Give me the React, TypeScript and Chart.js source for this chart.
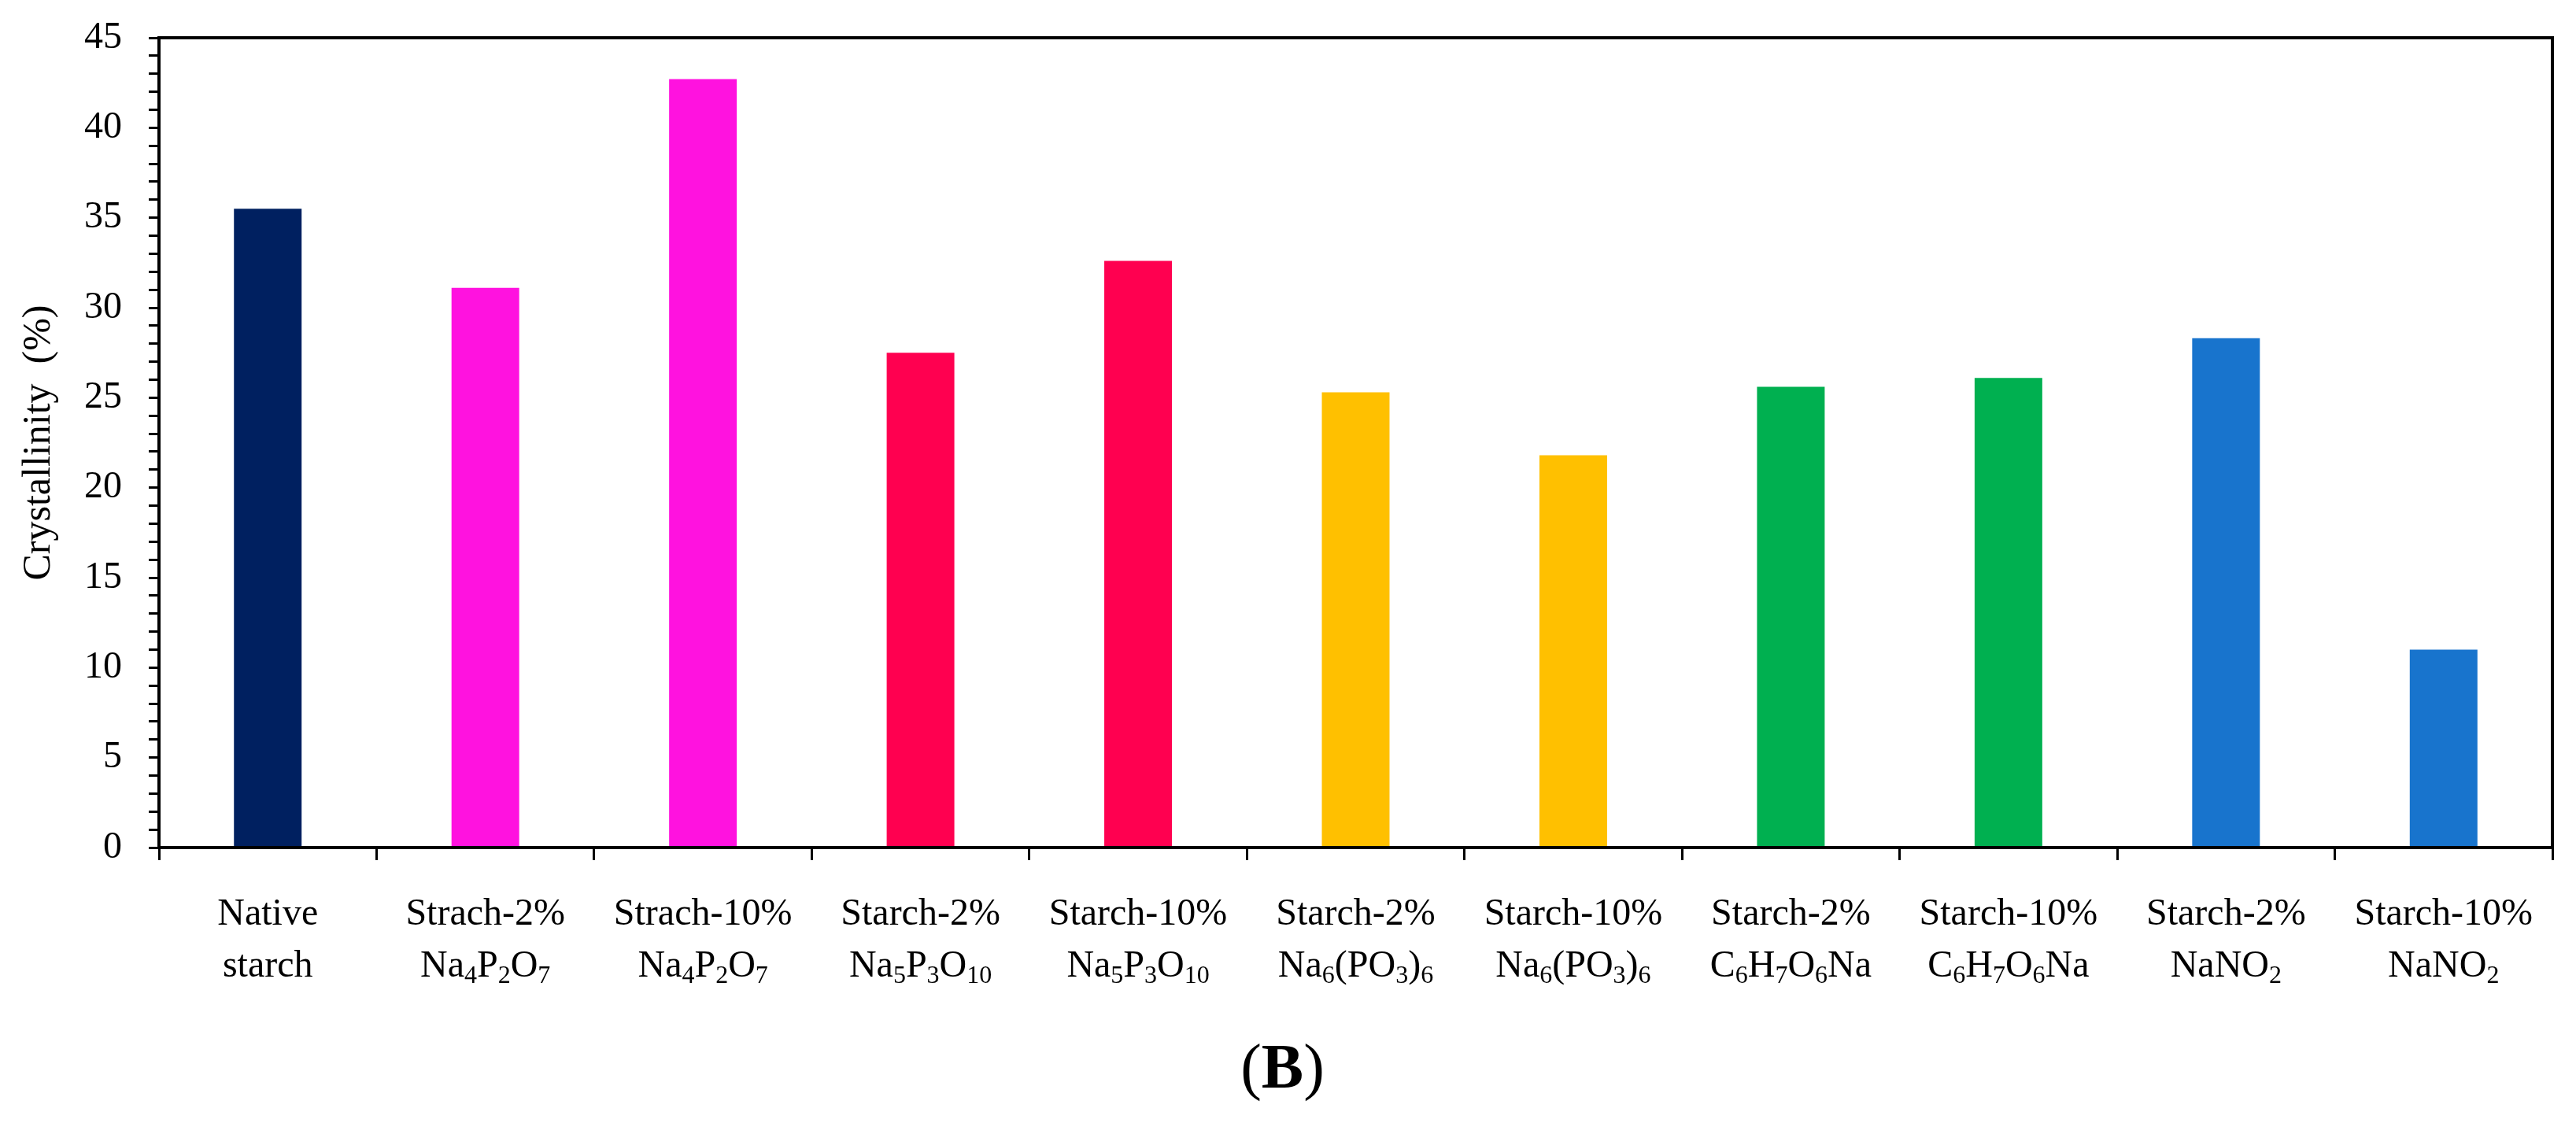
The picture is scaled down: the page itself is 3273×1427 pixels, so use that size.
import React, { useEffect, useRef } from 'react';
import { Chart, registerables } from 'chart.js';

Chart.register(...registerables);

// ---- data ----
const labelLine1 = [
  'Native',
  'Strach-2%',
  'Strach-10%',
  'Starch-2%',
  'Starch-10%',
  'Starch-2%',
  'Starch-10%',
  'Starch-2%',
  'Starch-10%',
  'Starch-2%',
  'Starch-10%',
];
// "_digits" marks a subscript
const labelLine2 = [
  'starch',
  'Na_4P_2O_7',
  'Na_4P_2O_7',
  'Na_5P_3O_10',
  'Na_5P_3O_10',
  'Na_6(PO_3)_6',
  'Na_6(PO_3)_6',
  'C_6H_7O_6Na',
  'C_6H_7O_6Na',
  'NaNO_2',
  'NaNO_2',
];
const crystallinity = [35.5, 31.1, 42.7, 27.5, 32.6, 25.3, 21.8, 25.6, 26.1, 28.3, 11.0];
const barColors = [
  '#002060',
  '#FF12DF',
  '#FF12DF',
  '#FF0050',
  '#FF0050',
  '#FFC000',
  '#FFC000',
  '#00B050',
  '#00B050',
  '#1874CD',
  '#1874CD',
];
const yMin = 0;
const yMax = 45;
const yMajorStep = 5;
const yMinorStep = 1;
const yTitle = 'Crystallinity  (%)';
const panelLabel = 'B';

const SERIF = '"Liberation Serif", "Times New Roman", "DejaVu Serif", serif';

function parseRich(text: string) {
  const parts: { t: string; sub: boolean }[] = [];
  const re = /_(\d+)/g;
  let last = 0;
  let m: RegExpExecArray | null;
  while ((m = re.exec(text)) !== null) {
    if (m.index > last) parts.push({ t: text.slice(last, m.index), sub: false });
    parts.push({ t: m[1], sub: true });
    last = m.index + m[0].length;
  }
  if (last < text.length) parts.push({ t: text.slice(last), sub: false });
  return parts;
}

function drawRich(ctx: CanvasRenderingContext2D, text: string, cx: number, baseline: number, size: number) {
  const parts = parseRich(text);
  const subSize = Math.round(size * 0.66);
  let total = 0;
  const widths = parts.map((p) => {
    ctx.font = `${p.sub ? subSize : size}px ${SERIF}`;
    const w = ctx.measureText(p.t).width;
    total += w;
    return w;
  });
  let x = cx - total / 2;
  ctx.textAlign = 'left';
  ctx.textBaseline = 'alphabetic';
  parts.forEach((p, i) => {
    ctx.font = `${p.sub ? subSize : size}px ${SERIF}`;
    ctx.fillText(p.t, x, p.sub ? baseline + size * 0.17 : baseline);
    x += widths[i];
  });
}

const decorPlugin = {
  id: 'decor',
  afterDraw(chart: any) {
    const ctx: CanvasRenderingContext2D = chart.ctx;
    const area = chart.chartArea;
    const xScale = chart.scales.x;
    ctx.save();
    // frame
    ctx.strokeStyle = '#000';
    ctx.lineWidth = 4;
    ctx.strokeRect(area.left, area.top, area.right - area.left, area.bottom - area.top);
    // category labels
    ctx.fillStyle = '#000';
    for (let i = 0; i < labelLine1.length; i++) {
      const cx = xScale.getPixelForValue(i);
      drawRich(ctx, labelLine1[i], cx, area.bottom + 98, 48);
      drawRich(ctx, labelLine2[i], cx, area.bottom + 164, 48);
    }
    // panel label (B)
    const size = 80;
    const fontN = `${size}px ${SERIF}`;
    const fontB = `bold ${size}px ${SERIF}`;
    ctx.font = fontN;
    const wo = ctx.measureText('(').width;
    const wc = ctx.measureText(')').width;
    ctx.font = fontB;
    const wb = ctx.measureText(panelLabel).width;
    const totalW = wo + wb + wc;
    let x = chart.width / 2 - 7 - totalW / 2;
    const base = 1382;
    ctx.textAlign = 'left';
    ctx.textBaseline = 'alphabetic';
    ctx.font = fontN;
    ctx.fillText('(', x, base);
    x += wo;
    ctx.font = fontB;
    ctx.fillText(panelLabel, x, base);
    x += wb;
    ctx.font = fontN;
    ctx.fillText(')', x, base);
    ctx.restore();
  },
};

export default function App() {
  const canvasRef = useRef<HTMLCanvasElement | null>(null);

  useEffect(() => {
    const canvas = canvasRef.current;
    if (!canvas) return;
    const chart = new Chart(canvas, {
      type: 'bar',
      data: {
        labels: labelLine1.map((l, i) => `${l} ${labelLine2[i]}`),
        datasets: [
          {
            data: crystallinity,
            backgroundColor: barColors,
            borderWidth: 0,
            categoryPercentage: 1,
            barPercentage: 0.311,
          },
        ],
      },
      options: {
        animation: false,
        responsive: false,
        devicePixelRatio: 1,
        layout: { padding: { left: 0, top: 48, right: 30, bottom: 0 } },
        plugins: {
          legend: { display: false },
          tooltip: { enabled: false },
          title: { display: false },
        },
        scales: {
          x: {
            type: 'category',
            offset: true,
            border: { display: false },
            grid: {
              display: true,
              offset: true,
              drawOnChartArea: false,
              drawTicks: true,
              tickLength: 16,
              color: '#000',
              lineWidth: 3,
            },
            ticks: { display: false },
            afterFit(scale: any) {
              scale.height = 350;
              scale.paddingLeft = 0;
              scale.paddingRight = 0;
            },
          },
          y: {
            type: 'linear',
            min: yMin,
            max: yMax,
            border: { display: false },
            grid: {
              display: true,
              drawOnChartArea: false,
              drawTicks: true,
              tickLength: 13,
              color: '#000',
              lineWidth: 3,
            },
            ticks: {
              stepSize: yMinorStep,
              autoSkip: false,
              padding: 34,
              color: '#000',
              font: { family: SERIF, size: 48 },
              callback: (v: any) => (Number(v) % yMajorStep === 0 ? String(v) : ''),
            },
            title: {
              display: true,
              text: yTitle,
              color: '#000',
              font: { family: SERIF, size: 50 },
              padding: { top: 20, bottom: 0 },
            },
            afterFit(scale: any) {
              scale.width = 202;
              scale.paddingTop = 0;
              scale.paddingBottom = 0;
            },
          },
        },
      },
      plugins: [decorPlugin],
    });
    return () => chart.destroy();
  }, []);

  return (
    <div style={{ position: 'fixed', left: 0, top: 0, width: 3273, height: 1427, background: '#fff' }}>
      <canvas ref={canvasRef} width={3273} height={1427} style={{ width: 3273, height: 1427, display: 'block' }} />
    </div>
  );
}
